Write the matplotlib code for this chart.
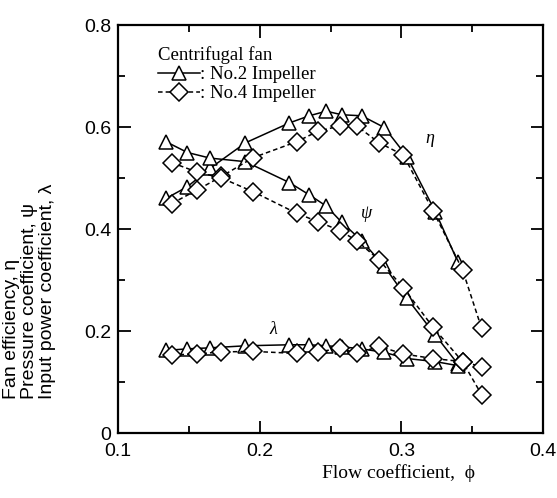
import matplotlib
matplotlib.use('Agg')
import matplotlib.pyplot as plt
from matplotlib.lines import Line2D
from matplotlib.ticker import MultipleLocator

# No.2 impeller (triangles, solid)
phi2=[0.134,0.149,0.165,0.190,0.221,0.235,0.247,0.258,0.272,0.288,0.304,0.324,0.340]
eta2=[0.460,0.483,0.519,0.569,0.608,0.622,0.631,0.624,0.622,0.599,0.542,0.434,0.335]
psi2=[0.571,0.550,0.539,0.532,0.491,0.467,0.445,0.413,0.377,0.327,0.264,0.192,0.135]
lam2=[0.162,0.165,0.167,0.171,0.173,0.173,0.171,0.169,0.165,0.158,0.146,0.140,0.132]

# No.4 impeller (diamonds, dashed)
phi4=[0.138,0.1555,0.173,0.1955,0.226,0.2414,0.2567,0.269,0.2844,0.3014,0.3225,0.3432,0.3567]
eta4=[0.450,0.476,0.503,0.540,0.571,0.592,0.602,0.601,0.569,0.545,0.435,0.320,0.205]
psi4=[0.530,0.512,0.500,0.473,0.431,0.414,0.397,0.376,0.339,0.285,0.207,0.140,0.075]
lam4=[0.153,0.155,0.159,0.160,0.156,0.159,0.166,0.156,0.170,0.155,0.146,0.140,0.130]

xticks=[0.1,0.2,0.3,0.4]
yticks=[0,0.2,0.4,0.6,0.8]
xticklabels=['0.1','0.2','0.3','0.4']
yticklabels=['0','0.2','0.4','0.6','0.8']

serif='Liberation Serif'
sans='Liberation Sans'

fig=plt.figure(figsize=(5.57,4.98),dpi=100)
ax=fig.add_axes([118/557,1-433/498,425/557,408/498])

st2=dict(color='k',lw=1.1,marker='^',ms=10,mfc='white',mec='k',mew=1.1)
st4=dict(color='k',lw=1.1,ls=(0,(3,2)),marker='D',ms=9,mfc='white',mec='k',mew=1.1)
for y in [eta2,psi2,lam2]:
    ax.plot(phi2,y,**st2)
for y in [eta4,psi4,lam4]:
    ax.plot(phi4,y,**st4)

ax.set_xlim(0.1,0.4)
ax.set_ylim(0,0.8)
ax.xaxis.set_minor_locator(MultipleLocator(0.05))
ax.yaxis.set_minor_locator(MultipleLocator(0.1))
ax.set_xticks(xticks)
ax.set_xticklabels(xticklabels,fontfamily=sans,fontsize=14)
ax.set_yticks(yticks)
ax.set_yticklabels(yticklabels,fontfamily=sans,fontsize=14)
ax.tick_params(which='both',direction='in',top=True,right=True,width=1.3)
ax.tick_params(which='major',length=9,pad=5)
ax.tick_params(axis='x',which='major',pad=7)
ax.tick_params(which='minor',length=5)
for s in ax.spines.values():
    s.set_linewidth(1.6)

ax.text(0.66,-0.098,'Flow coefficient,  \u03d5',transform=ax.transAxes,ha='center',va='center',
        fontfamily=serif,fontsize=14)
ax.text(-0.208,0.083,'Fan efficiency, \u03b7\nPressure coefficient, \u03c8\nInput power coefficient, \u03bb',
        transform=ax.transAxes,rotation=90,ha='center',va='bottom',multialignment='left',
        fontfamily=sans,fontsize=14,linespacing=1.05)

ax.text(0.320,0.578,'\u03b7',fontfamily=serif,fontstyle='italic',fontsize=13,ha='center',va='center')
ax.text(0.2755,0.431,'\u03c8',fontfamily=serif,fontstyle='italic',fontsize=13,ha='center',va='center')
ax.text(0.2096,0.202,'\u03bb',fontfamily=serif,fontstyle='italic',fontsize=13,ha='center',va='center')

h2=Line2D([],[],**st2)
h4=Line2D([],[],**st4)
leg=ax.legend([h2,h4],[': No.2 Impeller',': No.4 Impeller'],title='Centrifugal fan',
              loc='upper left',bbox_to_anchor=(0.095,0.948),frameon=False,numpoints=1,
              handlelength=2.2,handletextpad=0.0,labelspacing=0.1,borderpad=0,borderaxespad=0,
              alignment='left',prop={'family':serif,'size':13.5})
leg.get_title().set_fontfamily(serif)
leg.get_title().set_fontsize(13.5)

plt.savefig('out.png',dpi=100)
